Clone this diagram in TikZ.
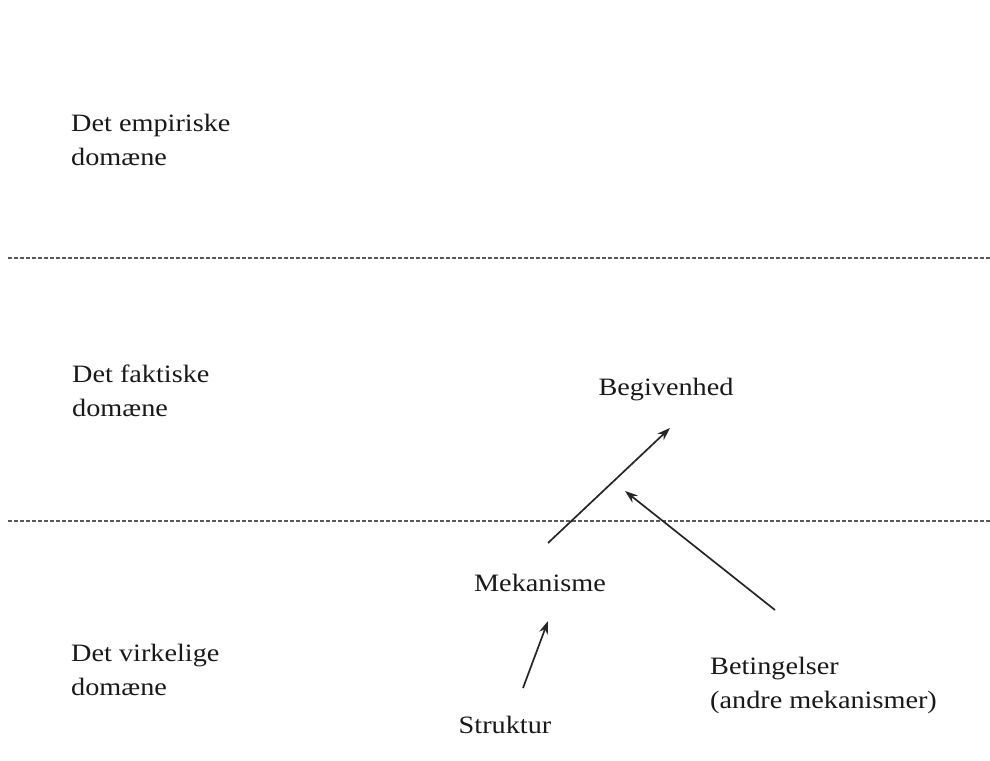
\documentclass[tikz,border=0pt]{standalone}
\usepackage{fontspec}
\setmainfont{Liberation Serif}[FakeStretch=1.13]
\usetikzlibrary{arrows.meta}

\tikzset{
  lbl/.style={inner sep=0pt, font=\fontsize{25}{34}\selectfont, text=black!90},
  domlabel/.style={lbl, align=left, anchor=base west},
  sepline/.style={black!65, line width=1.6pt, dash pattern=on 3.5pt off 2.5pt},
  arr/.style={-{Stealth[length=13pt,width=9pt]}, line width=1.7pt, black!85}
}

\begin{document}
\begin{tikzpicture}[x=1pt,y=-1pt]
\fill[white] (0,0) rectangle (990,760);
\useasboundingbox (0,0) rectangle (990,760);

% domains (base = last line)
\node[domlabel] (emp) at (71,165) {Det empiriske\\domæne};
\node[domlabel] (fak) at (72,416) {Det faktiske\\domæne};
\node[domlabel] (virk) at (71,695) {Det virkelige\\domæne};

\draw[sepline] (8,258) -- (990,258);
\draw[sepline] (8,521) -- (990,521);

% mechanisms
\node[lbl, anchor=base] (beg) at (666,395) {Begivenhed};
\node[lbl, anchor=base] (mek) at (540,591) {Mekanisme};
\node[lbl, anchor=base] (struk) at (505,733) {Struktur};
\node[domlabel] (bet) at (710,708) {Betingelser\\(andre mekanismer)};
\coordinate (hit) at (625,491);

\draw[arr] ([shift={(8,-48)}]mek.base) -- ([shift={(4,33)}]beg.base);
\draw[arr] ([shift={(65,-98)}]bet.base west) -- (hit);
\draw[arr] ([shift={(18,-45)}]struk.base) -- ([shift={(8,30)}]mek.base);
\end{tikzpicture}
\end{document}
